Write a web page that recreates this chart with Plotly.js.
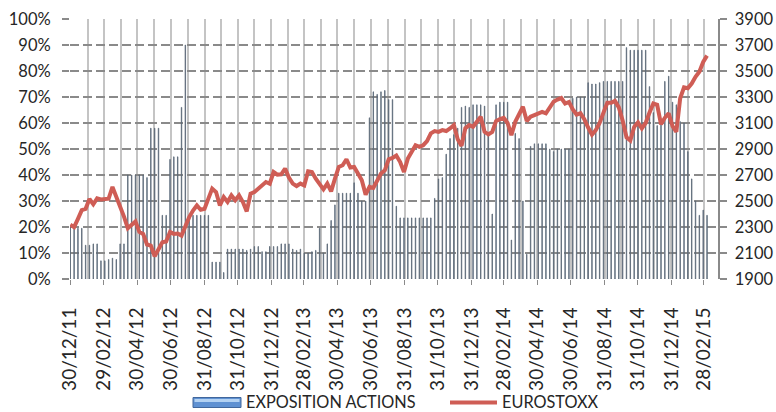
<!DOCTYPE html>
<html>
<head>
<meta charset="utf-8">
<script src="https://cdn.plot.ly/plotly-3.0.1.min.js"></script>
<style>
html,body{margin:0;padding:0;background:#fff;}
#chart{width:776px;height:412px;}
</style>
</head>
<body>
<div id="chart"></div>
<script>
// Weekly observations (Fridays) starting 30/12/2011
const START_DATE = '2011-12-30';

// Series names
const SERIES = ['EXPOSITION ACTIONS', 'EUROSTOXX'];

// Equity exposure (%), weekly
const EXPOSITION_ACTIONS = [
  20, 20, 19.5, 19.5, 13, 13, 13.5, 13.5, 7, 7,
  7.5, 8, 7.5, 13.5, 13.5, 40, 40, 40, 40, 40,
  39, 58, 58, 58, 24.5, 24.5, 46, 47, 47, 66,
  90, 24.5, 24.5, 24.5, 24.5, 24.5, 24.5, 6.5, 6.5, 6.5,
  2.5, 11.5, 11.5, 11.5, 11.5, 11.5, 11, 11.5, 12.5, 12.5,
  10.5, 10.5, 12.5, 12.5, 12.5, 13.5, 13.5, 13.5, 11.5, 11,
  11.5, 10, 10, 10.5, 11, 19.5, 10, 13.5, 22.5, 28.5,
  33, 33, 33, 33, 37, 33, 30, 30, 62, 72,
  71, 72, 72.5, 69, 69, 28, 23.5, 23.5, 23.5, 23.5,
  23.5, 23.5, 23.5, 23.5, 23.5, 31, 38.5, 39, 48, 54,
  55.5, 58, 66, 66.5, 66, 67, 67, 67, 66.5, 55,
  25, 67, 68, 68, 68, 15, 56, 54, 30, 9.5,
  51, 52, 52, 52, 52, 50, 49, 50, 50, 50,
  50, 69.5, 70, 70, 70, 75.5, 75, 75, 75.5, 76,
  76, 76, 76, 76, 76, 89, 88, 88, 88, 88,
  88, 74, 64, 59, 60, 76, 78, 68, 67, 60.5,
  60, 49, 38.5, 30, 24.5, 26.5, 24.5
];

// EUROSTOXX index level, weekly
const EUROSTOXX = [
  2317, 2299, 2363, 2430, 2440, 2515, 2475, 2520, 2512, 2513,
  2518, 2608, 2530, 2470, 2380, 2290, 2312, 2343, 2262, 2247,
  2165, 2157, 2075, 2132, 2183, 2188, 2262, 2247, 2250, 2234,
  2312, 2376, 2427, 2466, 2433, 2440, 2518, 2595, 2569, 2466,
  2530, 2492, 2543, 2505, 2543, 2492, 2420, 2556, 2569, 2595,
  2620, 2646, 2633, 2723, 2703, 2705, 2749, 2680, 2634, 2615,
  2634, 2620, 2729, 2723, 2672, 2626, 2590, 2634, 2574, 2672,
  2762, 2775, 2821, 2757, 2762, 2711, 2659, 2549, 2608, 2600,
  2659, 2711, 2736, 2821, 2831, 2850, 2800, 2723, 2826, 2878,
  2929, 2916, 2929, 2960, 3020, 3038, 3032, 3045, 3038, 3058,
  3084, 2975, 2924, 3060, 3084, 3071, 3109, 3148, 3032, 3012,
  3032, 3115, 3130, 3140, 3100, 3007, 3109, 3165, 3225, 3115,
  3148, 3161, 3174, 3186, 3174, 3213, 3264, 3280, 3292, 3250,
  3262, 3205, 3165, 3175, 3130, 3065, 3010, 3045, 3100, 3180,
  3255, 3255, 3270, 3220, 3120, 2990, 2965, 3070, 3105, 3058,
  3100, 3180, 3250, 3240, 3090, 3140, 3175, 3075, 3032, 3290,
  3375, 3368, 3403, 3455, 3495, 3570, 3618
];

// Labelled ticks (every two months) and intermediate monthly grid lines
const TICK_DATES = [
  '2011-12-30','2012-02-29','2012-04-30','2012-06-30','2012-08-31','2012-10-31',
  '2012-12-31','2013-02-28','2013-04-30','2013-06-30','2013-08-31','2013-10-31',
  '2013-12-31','2014-02-28','2014-04-30','2014-06-30','2014-08-31','2014-10-31',
  '2014-12-31','2015-02-28'
];
const MINOR_DATES = [
  '2012-01-31','2012-03-31','2012-05-31','2012-07-31','2012-09-30','2012-11-30',
  '2013-01-31','2013-03-31','2013-05-31','2013-07-31','2013-09-30','2013-11-30',
  '2014-01-31','2014-03-31','2014-05-31','2014-07-31','2014-09-30','2014-11-30',
  '2015-01-31'
];

const DAY = 864e5;
const t0 = Date.parse(START_DATE + 'T00:00:00Z');
const dates = EUROSTOXX.map((_, i) => new Date(t0 + i * 7 * DAY).toISOString().slice(0, 10));

const FONT = 'Lato, "Open Sans", "DejaVu Sans", sans-serif';
const TXT = '#262626';
const RED = '#cf5d55';

const traces = [
  {
    type: 'bar',
    name: SERIES[0],
    x: dates,
    y: EXPOSITION_ACTIONS,
    yaxis: 'y',
    width: 0.8 * DAY,
    marker: {color: '#7ea9d9', line: {color: '#5a6672', width: 0.8}},
    showlegend: false
  },
  {
    type: 'scatter',
    mode: 'lines',
    name: SERIES[1],
    x: dates,
    y: EUROSTOXX,
    yaxis: 'y2',
    line: {color: RED, width: 4},
    showlegend: false
  }
];

// Legend drawn below the plot (plot area: 70..718 px wide, 19..279 px high)
const W = 648, H = 260;
const px = v => (v - 70) / W;
const py = v => (279 - v) / H;

const layout = {
  width: 776,
  height: 412,
  margin: {l: 70, r: 58, t: 19, b: 133, pad: 0},
  paper_bgcolor: '#ffffff',
  plot_bgcolor: '#ffffff',
  font: {family: FONT, size: 16, color: TXT},
  showlegend: false,
  bargap: 0,
  shapes: [
    {type: 'rect', xref: 'paper', yref: 'paper', x0: px(193), x1: px(241), y0: py(407.5), y1: py(397.5),
     fillcolor: '#5f91d2', line: {color: '#41679c', width: 1}},
    {type: 'rect', xref: 'paper', yref: 'paper', x0: px(194.5), x1: px(239.5), y0: py(402), y1: py(399),
     fillcolor: '#b4d2f2', line: {width: 0}},
    {type: 'line', xref: 'paper', yref: 'paper', x0: px(450), x1: px(497), y0: py(402.5), y1: py(402.5),
     line: {color: RED, width: 4}}
  ],
  annotations: [
    {xref: 'paper', yref: 'paper', x: px(245), y: py(411.5), xanchor: 'left', yanchor: 'bottom',
     borderpad: 0, text: SERIES[0], showarrow: false, font: {family: FONT, size: 16.3, color: TXT}},
    {xref: 'paper', yref: 'paper', x: px(501), y: py(411.5), xanchor: 'left', yanchor: 'bottom',
     borderpad: 0, text: SERIES[1], showarrow: false, font: {family: FONT, size: 16.3, color: TXT}}
  ],
  xaxis: {
    type: 'date',
    range: ['2011-12-29 12:00', '2015-03-26'],
    tickmode: 'array',
    tickvals: TICK_DATES,
    tickformat: '%d/%m/%y',
    tickangle: -90,
    tickfont: {family: FONT, size: 19, color: TXT},
    ticks: 'outside',
    ticklen: 5,
    tickwidth: 1,
    tickcolor: '#8a8a8a',
    ticklabelstandoff: 15,
    showgrid: true,
    gridcolor: '#c4c4c4',
    gridwidth: 2,
    minor: {
      tickmode: 'array',
      tickvals: MINOR_DATES,
      showgrid: true,
      gridcolor: '#c4c4c4',
      gridwidth: 2,
      ticks: ''
    },
    showline: false,
    zeroline: false,
    fixedrange: true
  },
  yaxis: {
    range: [0, 100],
    dtick: 10,
    tick0: 0,
    ticksuffix: '%',
    tickfont: {family: FONT, size: 16.5, color: TXT},
    ticks: 'outside',
    ticklen: 7,
    tickwidth: 1.5,
    tickcolor: '#8a8a8a',
    ticklabelstandoff: 8,
    showgrid: true,
    gridcolor: '#8a8a8a',
    gridwidth: 1.6,
    griddash: '9px,4px',
    zeroline: false,
    showline: false,
    fixedrange: true
  },
  yaxis2: {
    overlaying: 'y',
    side: 'right',
    range: [1900, 3900],
    dtick: 200,
    tick0: 1900,
    tickformat: 'd',
    tickfont: {family: FONT, size: 16.5, color: TXT},
    ticks: 'outside',
    ticklen: 7,
    tickwidth: 1.5,
    tickcolor: '#8a8a8a',
    ticklabelstandoff: 5,
    showgrid: false,
    zeroline: false,
    showline: true,
    linecolor: '#8a8a8a',
    linewidth: 1.5,
    fixedrange: true
  }
};

Plotly.newPlot('chart', traces, layout, {displayModeBar: false, staticPlot: true});
</script>
</body>
</html>
